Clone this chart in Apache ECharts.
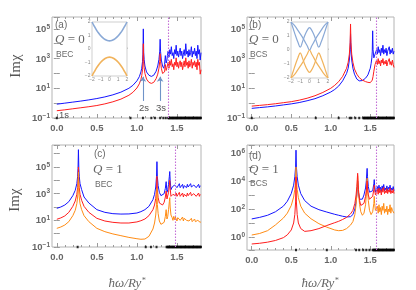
<!DOCTYPE html>
<html><head><meta charset="utf-8">
<script src="https://cdn.jsdelivr.net/npm/echarts@6/dist/echarts.min.js"></script>
<style>html,body{margin:0;padding:0;background:#fff}#c{width:416px;height:290px}</style>
</head><body><div id="c"></div>
<script>
// ---------------- DATA (curve values stored as log10 of Im chi) ----------------
const xTickLabels = [0, 0.5, 1.0, 1.5];
const xMinorTicks = [0.1,0.2,0.3,0.4,0.6,0.7,0.8,0.9,1.1,1.2,1.3,1.4,1.6,1.7];

// Panel (a) Q=0 BEC
const xA = [0,0.1,0.2,0.3,0.4,0.5,0.6,0.7,0.8,0.9,0.95,1.0,1.03,1.05,1.06,1.07,1.075,1.08,1.085,1.09,1.1,1.12,1.15,1.18,1.21,1.24,1.26,1.275,1.285,1.29,1.295,1.305,1.32,1.335,1.345,1.355,1.365,1.375,
  1.38,1.39,1.4,1.41,1.42,1.43,1.44,1.45,1.46,1.47,1.48,1.49,1.5,1.51,1.52,1.53,1.54,1.55,1.56,1.57,1.58,1.59,1.6,1.61,1.62,1.63,1.64,1.65,1.66,1.67,1.68,1.69,1.7,1.71,1.72,1.73,1.74,1.75,1.76,1.77,1.78,1.79,1.8];
const blueA = [-0.07,0.0,0.07,0.14,0.22,0.31,0.42,0.56,0.74,1.0,1.2,1.5,1.78,2.1,2.35,2.8,3.3,5.0,3.4,2.95,2.5,2.1,1.88,1.8,1.88,2.15,2.5,2.95,3.5,4.3,3.5,2.9,2.5,2.35,2.6,3.2,2.7,2.9,
  3.2,3.5,3.1,3.6,3.3,3.8,3.2,3.4,3.0,3.6,3.3,3.9,3.2,3.5,3.1,3.4,3.7,3.2,3.5,3.0,3.3,3.6,3.2,4.0,3.3,3.5,3.1,3.6,3.2,3.4,3.8,3.1,3.5,3.3,3.7,3.2,3.5,3.0,3.9,3.3,3.6,2.9,3.4];
const redA = [-0.51,-0.45,-0.38,-0.31,-0.24,-0.16,-0.05,0.09,0.27,0.53,0.73,1.02,1.3,1.6,1.85,2.25,2.7,4.0,2.8,2.4,2.0,1.62,1.4,1.33,1.4,1.65,1.95,2.35,2.8,3.33,2.8,2.35,2.0,1.87,2.1,2.6,2.2,2.4,
  2.45,2.75,2.35,2.85,2.55,2.95,2.45,2.65,2.25,2.75,2.55,3.05,2.45,2.75,2.35,2.65,2.85,2.45,2.75,2.25,2.55,2.85,2.45,3.05,2.55,2.75,2.35,2.85,2.45,2.65,2.95,2.35,2.75,2.55,2.85,2.45,2.75,2.25,2.95,2.55,2.75,1.95,2.25];
const dotsA = [0,0.92,1.075,1.18,1.225,1.29,1.33,1.36,1.39,1.4,1.41,1.42,1.43,1.44,1.45,1.46,1.47,1.48,1.49,1.5,1.51,1.52,1.53,1.54,1.55,1.56,1.57,1.58,1.59,1.6,1.61,1.62,1.63,1.64,1.65,1.66,1.67,1.68,1.69,1.7,1.71,1.72,1.73,1.74,1.75,1.76,1.77,1.78,1.79,1.8];
const edgeA = 1.39;

// Panel (b) Q=0 BCS
const xB = [0,0.1,0.2,0.3,0.4,0.5,0.6,0.7,0.8,0.9,1.0,1.05,1.1,1.15,1.2,1.22,1.235,1.245,1.25,1.255,1.265,1.28,1.3,1.33,1.36,1.4,1.44,1.47,1.5,1.51,1.52,1.525,1.53,1.535,1.545,1.56,
  1.57,1.58,1.59,1.6,1.61,1.62,1.63,1.64,1.65,1.66,1.67,1.68,1.69,1.7,1.71,1.72,1.73,1.74,1.75,1.76,1.77,1.78,1.79,1.8];
const redB = [-0.2,-0.15,-0.1,-0.04,0.03,0.1,0.2,0.33,0.5,0.72,1.0,1.2,1.45,1.8,2.35,2.75,3.3,4.1,5.33,4.1,3.3,2.75,2.3,1.95,1.72,1.55,1.45,1.4,1.38,1.4,1.45,1.55,1.65,1.8,2.15,2.6,
  2.7,2.9,2.6,3.0,2.65,2.85,2.5,2.9,2.7,3.0,2.6,2.8,2.65,2.9,2.5,2.75,2.65,3.0,2.6,2.8,2.55,2.9,2.6,2.4];
const blueB = [-0.35,-0.3,-0.25,-0.19,-0.12,-0.05,0.04,0.16,0.3,0.5,0.75,0.92,1.15,1.5,2.0,2.35,2.9,3.6,4.67,3.6,2.9,2.35,1.95,1.62,1.5,1.52,1.68,1.9,2.35,2.65,3.05,3.5,4.87,3.6,3.05,3.3,
  3.4,3.6,3.3,3.8,3.4,3.6,3.2,3.7,3.4,3.9,3.3,3.6,3.4,3.7,3.2,3.5,3.4,3.8,3.3,3.6,3.4,3.7,3.3,3.5];
const dotsB = [0,0.81,1.1,1.24,1.26,1.31,1.36,1.41,1.42,1.43,1.44,1.45,1.46,1.47,1.48,1.49,1.5,1.51,1.52,1.53,1.54,1.55,1.56,1.57,1.58,1.59,1.6,1.61,1.62,1.63,1.64,1.65,1.66,1.67,1.68,1.69,1.7,1.71,1.72,1.73,1.74,1.75,1.76,1.77,1.78,1.79,1.8];
const edgeB = 1.575;

// Panel (c) Q=1 BEC
const xC = [0,0.05,0.1,0.15,0.2,0.23,0.25,0.26,0.265,0.27,0.275,0.28,0.29,0.31,0.34,0.4,0.5,0.6,0.7,0.8,0.9,1.0,1.05,1.1,1.15,1.2,1.22,1.235,1.245,1.25,1.255,1.265,1.28,1.3,1.32,1.34,1.355,1.365,1.37,1.375,1.385,1.395,1.405,1.41,1.415,1.425,
  1.44,1.45,1.46,1.47,1.48,1.49,1.5,1.51,1.52,1.53,1.54,1.55,1.56,1.57,1.58,1.59,1.6,1.61,1.62,1.63,1.64,1.65,1.66,1.67,1.68,1.69,1.7,1.71,1.72,1.73,1.74,1.75,1.76,1.77,1.78,1.79,1.8];
const blueC = [1.9,2.0,2.15,2.4,2.85,3.25,3.75,4.3,4.9,6.3,4.9,4.3,3.75,3.3,2.75,2.3,1.8,1.6,1.5,1.47,1.48,1.55,1.65,1.8,2.05,2.55,2.95,3.5,4.3,5.4,4.3,3.6,3.1,2.85,2.8,3.0,3.4,3.9,3.5,3.1,3.3,3.7,4.3,4.66,4.0,3.3,
  3.5,3.6,3.45,3.65,3.5,3.7,3.45,3.6,3.5,3.75,3.45,3.6,3.55,3.7,3.4,3.6,3.5,3.65,3.45,3.7,3.5,3.6,3.45,3.75,3.5,3.6,3.4,3.65,3.5,3.7,3.45,3.6,3.55,3.7,3.45,3.6,3.5];
const redC = [1.08,1.18,1.33,1.6,2.05,2.45,2.95,3.45,3.9,5.0,3.9,3.45,2.95,2.5,2.05,1.6,1.15,0.95,0.85,0.8,0.8,0.88,0.97,1.1,1.35,1.8,2.15,2.65,3.3,4.3,3.3,2.7,2.3,2.15,2.15,2.35,2.75,3.2,2.9,2.6,2.7,3.1,3.6,4.0,3.4,2.8,
  2.85,2.95,2.8,3.0,2.85,3.05,2.8,2.95,2.85,3.1,2.8,2.95,2.9,3.05,2.75,2.95,2.85,3.0,2.8,3.05,2.85,2.95,2.8,3.1,2.85,2.95,2.75,3.0,2.85,3.05,2.8,2.95,2.9,3.05,2.8,2.95,2.85];
const orangeC = [0.4,0.5,0.65,0.9,1.35,1.75,2.25,2.75,3.2,4.6,3.2,2.75,2.25,1.8,1.35,0.9,0.4,0.15,-0.02,-0.15,-0.28,-0.38,-0.42,-0.4,-0.2,0.35,0.8,1.4,2.2,3.4,2.2,1.5,0.95,0.7,0.65,0.85,1.3,1.8,1.4,1.1,1.3,1.8,2.4,2.7,2.0,1.4,
  1.2,1.0,1.3,1.05,1.25,1.1,0.95,1.2,1.05,1.3,1.0,1.15,1.1,1.25,0.95,1.15,1.05,1.2,1.0,1.15,1.05,0.95,1.1,1.0,1.15,0.9,1.05,0.95,1.1,0.9,1.0,0.85,1.0,0.9,0.95,0.85,0.9];
const dotsC = [0.26,1.11,1.175,1.245,1.37,1.38,1.39,1.4,1.41,1.42,1.43,1.44,1.45,1.46,1.47,1.48,1.49,1.5,1.51,1.52,1.53,1.54,1.55,1.56,1.57,1.58,1.59,1.6,1.61,1.62,1.63,1.64,1.65,1.66,1.67,1.68,1.69,1.7,1.71,1.72,1.73,1.74,1.75,1.76,1.77,1.78,1.79,1.8];
const edgeC = 1.475;

// Panel (d) Q=1 BCS
const xD = [0,0.1,0.2,0.3,0.4,0.45,0.5,0.53,0.545,0.555,0.56,0.565,0.575,0.59,0.62,0.67,0.75,0.85,0.95,1.05,1.1,1.15,1.2,1.25,1.28,1.305,1.32,1.33,1.335,1.34,1.35,1.365,1.38,1.4,1.42,1.44,1.45,1.455,1.46,1.465,1.475,1.49,1.51,1.53,1.545,1.55,1.555,1.565,
  1.58,1.59,1.6,1.61,1.62,1.63,1.64,1.65,1.66,1.67,1.68,1.69,1.7,1.71,1.72,1.73,1.74,1.75,1.76,1.77,1.78,1.79,1.8];
const blueD = [1.29,1.4,1.55,1.8,2.2,2.55,3.1,3.7,4.3,5.0,6.2,5.0,4.3,3.7,3.1,2.6,2.2,1.95,1.78,1.62,1.55,1.48,1.43,1.45,1.6,2.0,2.5,3.0,3.4,4.0,3.2,2.7,2.6,2.7,3.0,3.5,4.0,4.5,4.9,4.3,3.6,3.2,3.1,3.3,3.8,4.1,3.7,3.2,
  3.4,3.6,3.3,3.7,3.35,3.55,3.25,3.65,3.4,3.75,3.3,3.5,3.35,3.65,3.3,3.55,3.4,3.7,3.3,3.5,3.35,3.6,3.3];
const orangeD = [0.14,0.25,0.45,0.86,1.35,1.7,2.25,2.85,3.4,4.0,5.0,4.0,3.4,2.8,2.2,1.7,1.3,0.95,0.7,0.5,0.45,0.47,0.6,0.85,1.1,1.6,2.3,3.0,3.6,4.4,3.2,2.3,1.8,1.55,1.7,2.3,3.0,3.6,4.2,3.4,2.6,1.9,1.6,1.8,2.4,2.9,2.4,1.9,
  1.9,2.2,1.7,2.3,1.8,2.1,1.6,2.2,1.9,2.4,1.7,2.0,1.8,2.2,1.6,2.0,1.8,2.3,1.7,2.1,1.9,2.0,1.7];
const redD = [-0.5,-0.45,-0.37,-0.25,-0.05,0.15,0.5,1.0,1.6,2.5,4.3,2.5,1.6,1.0,0.6,0.4,0.45,0.6,0.82,1.02,1.12,1.25,1.4,1.65,1.9,2.4,3.0,3.6,4.1,4.55,3.4,2.6,2.25,2.17,2.4,2.9,3.3,3.7,4.0,3.5,3.0,2.7,2.7,2.9,3.4,3.7,3.4,3.0,
  3.2,3.4,3.05,3.5,3.15,3.35,3.0,3.45,3.2,3.55,3.1,3.3,3.15,3.45,3.1,3.35,3.2,3.5,3.1,3.3,3.15,3.4,3.1];
const dotsD = [0.56,0.95,1.32,1.36,1.41,1.45,1.49,1.53,1.54,1.55,1.56,1.57,1.58,1.59,1.6,1.61,1.62,1.63,1.64,1.65,1.66,1.67,1.68,1.69,1.7,1.71,1.72,1.73,1.74,1.75,1.76,1.77,1.78,1.79,1.8];
const edgeD = 1.575;

// y ranges (log10) per panel
const yLogRange = [[-1, 5.8], [-1, 5.8], [-1, 6.65], [-0.93, 6.57]];

// Inset band sketches
const insetX = [-2,-1.75,-1.5,-1.25,-1,-0.75,-0.5,-0.25,0,0.25,0.5,0.75,1,1.25,1.5,1.75,2];
const insetABlue = [2.0,1.7,1.42,1.18,0.98,0.82,0.7,0.63,0.6,0.63,0.7,0.82,0.98,1.18,1.42,1.7,2.0];
const insetAOrange = [-2.0,-1.7,-1.42,-1.18,-0.98,-0.82,-0.7,-0.63,-0.6,-0.63,-0.7,-0.82,-0.98,-1.18,-1.42,-1.7,-2.0];
const insetBBlueW = [2.0,1.5,1.0,0.55,0.2,0.6,1.05,1.4,1.6,1.4,1.05,0.6,0.2,0.55,1.0,1.5,2.0];
const insetBBlueV = [2.0,1.85,1.65,1.4,1.15,0.9,0.6,0.3,0.0,0.3,0.6,0.9,1.15,1.4,1.65,1.85,2.0];
const insetBOrangeW = [-2.0,-1.5,-1.0,-0.55,-0.2,-0.6,-1.05,-1.4,-1.6,-1.4,-1.05,-0.6,-0.2,-0.55,-1.0,-1.5,-2.0];
const insetBOrangeV = [-2.0,-1.85,-1.65,-1.4,-1.15,-0.9,-0.6,-0.3,0.0,-0.3,-0.6,-0.9,-1.15,-1.4,-1.65,-1.85,-2.0];

// ---------------- CHART ----------------
const SANS = 'Liberation Sans';
const SERIF = 'Liberation Serif';
const BLUE = '#1414ff', RED = '#ff1e1e', ORANGE = '#ff8c14';
const TICK = '#9a9a9a', LBL = '#666';

const toPts = (xs, logs) => xs.map((x, i) => [x, Math.pow(10, logs[i])]);

const mainGrids = [
  {left: 52, top: 17, width: 149, height: 101},
  {left: 247, top: 17, width: 147, height: 101},
  {left: 52, top: 145, width: 149, height: 102},
  {left: 247, top: 145, width: 147, height: 105}
];
const insetGrids = [
  {left: 92, top: 22, width: 35, height: 54},
  {left: 291, top: 22, width: 37, height: 56}
];
const grid = mainGrids.map(g => Object.assign({show: true, borderColor: '#b4b4b4', borderWidth: 1, backgroundColor: 'transparent'}, g))
  .concat(insetGrids.map(g => Object.assign({show: true, borderColor: '#cfcfcf', borderWidth: 1, backgroundColor: '#fff', z: 5}, g)));

const xAxis = [], yAxis = [];
const evenPanels = [false, false, false, true];
mainGrids.forEach((g, i) => {
  const base = {type: 'value', gridIndex: i, min: -0.06, max: 1.8, splitLine: {show: false}, axisLine: {show: false}};
  const maj = {show: true, inside: true, length: 4, customValues: xTickLabels, lineStyle: {color: TICK}};
  const mnr = {show: true, inside: true, length: 2, customValues: xMinorTicks, lineStyle: {color: TICK}};
  xAxis.push(Object.assign({}, base, {position: 'bottom', axisTick: maj,
    axisLabel: {show: true, customValues: xTickLabels, margin: 5, fontSize: 9.5, fontWeight: 'bold', color: LBL, fontFamily: SANS,
      formatter: v => (Math.abs(v * 2 - Math.round(v * 2)) < 1e-6 && v >= 0) ? v.toFixed(1) : ''}}));
  xAxis.push(Object.assign({}, base, {position: 'bottom', axisTick: mnr, axisLabel: {show: false}}));
  xAxis.push(Object.assign({}, base, {position: 'top', axisTick: maj, axisLabel: {show: false}}));
  xAxis.push(Object.assign({}, base, {position: 'top', axisTick: mnr, axisLabel: {show: false}}));

  const r = yLogRange[i];
  const ybase = {type: 'log', logBase: 10, gridIndex: i, min: Math.pow(10, r[0]), max: Math.pow(10, r[1]),
    splitLine: {show: false}, axisLine: {show: false}};
  const even = evenPanels[i];
  yAxis.push(Object.assign({}, ybase, {position: 'left',
    axisTick: {show: true, inside: true, length: 3, lineStyle: {color: TICK}},
    axisLabel: {show: true, margin: 2,
      formatter: v => {
        const l = Math.log10(v), e = Math.round(l);
        if (Math.abs(l - e) > 0.01) return '';
        const ok = even ? (e % 2 === 0) : (Math.abs(e) % 2 === 1);
        if (!ok) return '';
        return '{b|10}{s|' + (e < 0 ? '\u2212' + (-e) : e) + '}';
      },
      rich: {
        b: {fontSize: 9.5, fontWeight: 'bold', color: LBL, fontFamily: SANS, verticalAlign: 'bottom'},
        s: {fontSize: 6.5, fontWeight: 'bold', color: LBL, fontFamily: SANS, verticalAlign: 'bottom', padding: [0, 0, 4, 0]}
      }}}));
  yAxis.push(Object.assign({}, ybase, {position: 'right',
    axisTick: {show: true, inside: true, length: 3, lineStyle: {color: TICK}}, axisLabel: {show: false}}));
});
insetGrids.forEach((g, k) => {
  const gi = 4 + k;
  const lab = {show: true, fontSize: 5, color: '#888', margin: 1.5, fontFamily: SANS,
    formatter: v => v < 0 ? '\u2212' + (-v) : String(v)};
  xAxis.push({type: 'value', gridIndex: gi, min: -2, max: 2, interval: 1, splitLine: {show: false}, axisLine: {show: false},
    axisTick: {show: true, inside: true, length: 1.5, lineStyle: {color: '#bbb'}}, axisLabel: lab});
  yAxis.push({type: 'value', gridIndex: gi, min: -2, max: 2, interval: 1, splitLine: {show: false}, axisLine: {show: false},
    axisTick: {show: true, inside: true, length: 1.5, lineStyle: {color: '#bbb'}}, axisLabel: lab});
});

const line = (panel, xs, logs, color, extra) => Object.assign({
  type: 'line', xAxisIndex: panel * 4, yAxisIndex: panel * 2, data: toPts(xs, logs),
  showSymbol: false, symbol: 'none', lineStyle: {color, width: 1}, itemStyle: {color}, z: 3, animation: false
}, extra || {});
const edgeLine = x => ({symbol: ['none', 'none'], silent: true, label: {show: false},
  lineStyle: {color: '#c36fd6', width: 1.1, type: [1.5, 1.5]}, data: [{xAxis: x}]});
const dots = (panel, xs) => ({type: 'scatter', xAxisIndex: panel * 4, yAxisIndex: panel * 2, symbol: 'rect', symbolSize: [2, 2.5],
  itemStyle: {color: '#000'}, data: xs.map(x => [x, Math.pow(10, yLogRange[panel][0])]), z: 4, silent: true, animation: false});

const arrowMark = {symbol: ['none', 'arrow'], symbolSize: 5, silent: true, label: {show: false},
  lineStyle: {color: '#6f93c8', width: 1.1, type: 'solid'},
  data: [
    [{coord: [1.075, Math.pow(10, 0.15)]}, {coord: [1.075, Math.pow(10, 1.78)]}],
    [{coord: [1.29, Math.pow(10, 0.15)]}, {coord: [1.29, Math.pow(10, 1.78)]}]
  ]};

const insetLine = (k, ys, color, w) => ({type: 'line', xAxisIndex: 16 + k, yAxisIndex: 8 + k, data: insetX.map((x, i) => [x, ys[i]]),
  smooth: 0.4, showSymbol: false, symbol: 'none', lineStyle: {color, width: w}, z: 6, animation: false, silent: true});

const series = [
  line(0, xA, blueA, BLUE, {markLine: edgeLine(edgeA)}),
  line(0, xA, redA, RED, {markLine: arrowMark}),
  dots(0, dotsA),
  line(1, xB, blueB, BLUE, {markLine: edgeLine(edgeB)}),
  line(1, xB, redB, RED),
  dots(1, dotsB),
  line(2, xC, blueC, BLUE, {markLine: edgeLine(edgeC)}),
  line(2, xC, redC, RED),
  line(2, xC, orangeC, ORANGE),
  dots(2, dotsC),
  line(3, xD, blueD, BLUE, {markLine: edgeLine(edgeD)}),
  line(3, xD, orangeD, ORANGE),
  line(3, xD, redD, RED),
  dots(3, dotsD),
  insetLine(0, insetABlue, '#8aa9d6', 1.6),
  insetLine(0, insetAOrange, '#f1b35c', 1.6),
  insetLine(1, insetBBlueW, '#8aa9d6', 1.2),
  insetLine(1, insetBBlueV, '#8aa9d6', 1.2),
  insetLine(1, insetBOrangeW, '#f1b35c', 1.2),
  insetLine(1, insetBOrangeV, '#f1b35c', 1.2)
];

const txt = (x, y, text, size, family, extra) => ({type: 'text', x, y, silent: true, z: 20,
  style: Object.assign({text, fontSize: size, fontFamily: family, fill: '#6a6a6a', align: 'left', verticalAlign: 'middle'}, extra || {})});
const qRich = {q: {fontFamily: SERIF, fontStyle: 'italic', fontSize: 13, fill: '#666'}, r: {fontFamily: SERIF, fontSize: 13, fill: '#666'}};
const xtRich = {m: {fontFamily: SERIF, fontStyle: 'italic', fontSize: 13, fill: '#666'},
  s: {fontFamily: SERIF, fontStyle: 'italic', fontSize: 8, fill: '#666', verticalAlign: 'bottom', padding: [0, 0, 6, 0]}};

const graphic = [
  {type: 'text', x: 16, y: 66, rotation: Math.PI / 2, silent: true,
    style: {text: 'Im\u03c7', fontSize: 15, fontFamily: SERIF, fill: '#555', align: 'center', verticalAlign: 'middle'}},
  {type: 'text', x: 15, y: 200, rotation: Math.PI / 2, silent: true,
    style: {text: 'Im\u03c7', fontSize: 15, fontFamily: SERIF, fill: '#555', align: 'center', verticalAlign: 'middle'}},
  txt(127, 284, '{m|\u0127\u03c9/Ry}{s|*}', 13, SERIF, {align: 'center', rich: xtRich}),
  txt(320, 284, '{m|\u0127\u03c9/Ry}{s|*}', 13, SERIF, {align: 'center', rich: xtRich}),
  // panel annotations
  txt(55, 25, '(a)', 10, SANS),
  txt(55, 40, '{q|Q} {r|= 0}', 13, SERIF, {rich: qRich}),
  txt(56, 55, 'BEC', 8.5, SANS),
  txt(249, 25, '(b)', 10, SANS),
  txt(249, 40, '{q|Q} {r|= 0}', 13, SERIF, {rich: qRich}),
  txt(250, 55, 'BCS', 8.5, SANS),
  txt(94, 154, '(c)', 10, SANS),
  txt(93, 170, '{q|Q} {r|= 1}', 13, SERIF, {rich: qRich}),
  txt(95, 185, 'BEC', 8.5, SANS),
  txt(249, 156, '(d)', 10, SANS),
  txt(249, 170, '{q|Q} {r|= 1}', 13, SERIF, {rich: qRich}),
  txt(250, 184, 'BCS', 8.5, SANS),
  // state labels
  txt(59, 115, '1s', 9.5, SANS, {fill: '#555'}),
  txt(139, 108, '2s', 9.5, SANS, {fill: '#555'}),
  txt(156, 108, '3s', 9.5, SANS, {fill: '#555'})
];

const chart = echarts.init(document.getElementById('c'), null, {renderer: 'canvas'});
chart.setOption({animation: false, backgroundColor: '#fff', grid, xAxis, yAxis, series, graphic});
</script></body></html>
